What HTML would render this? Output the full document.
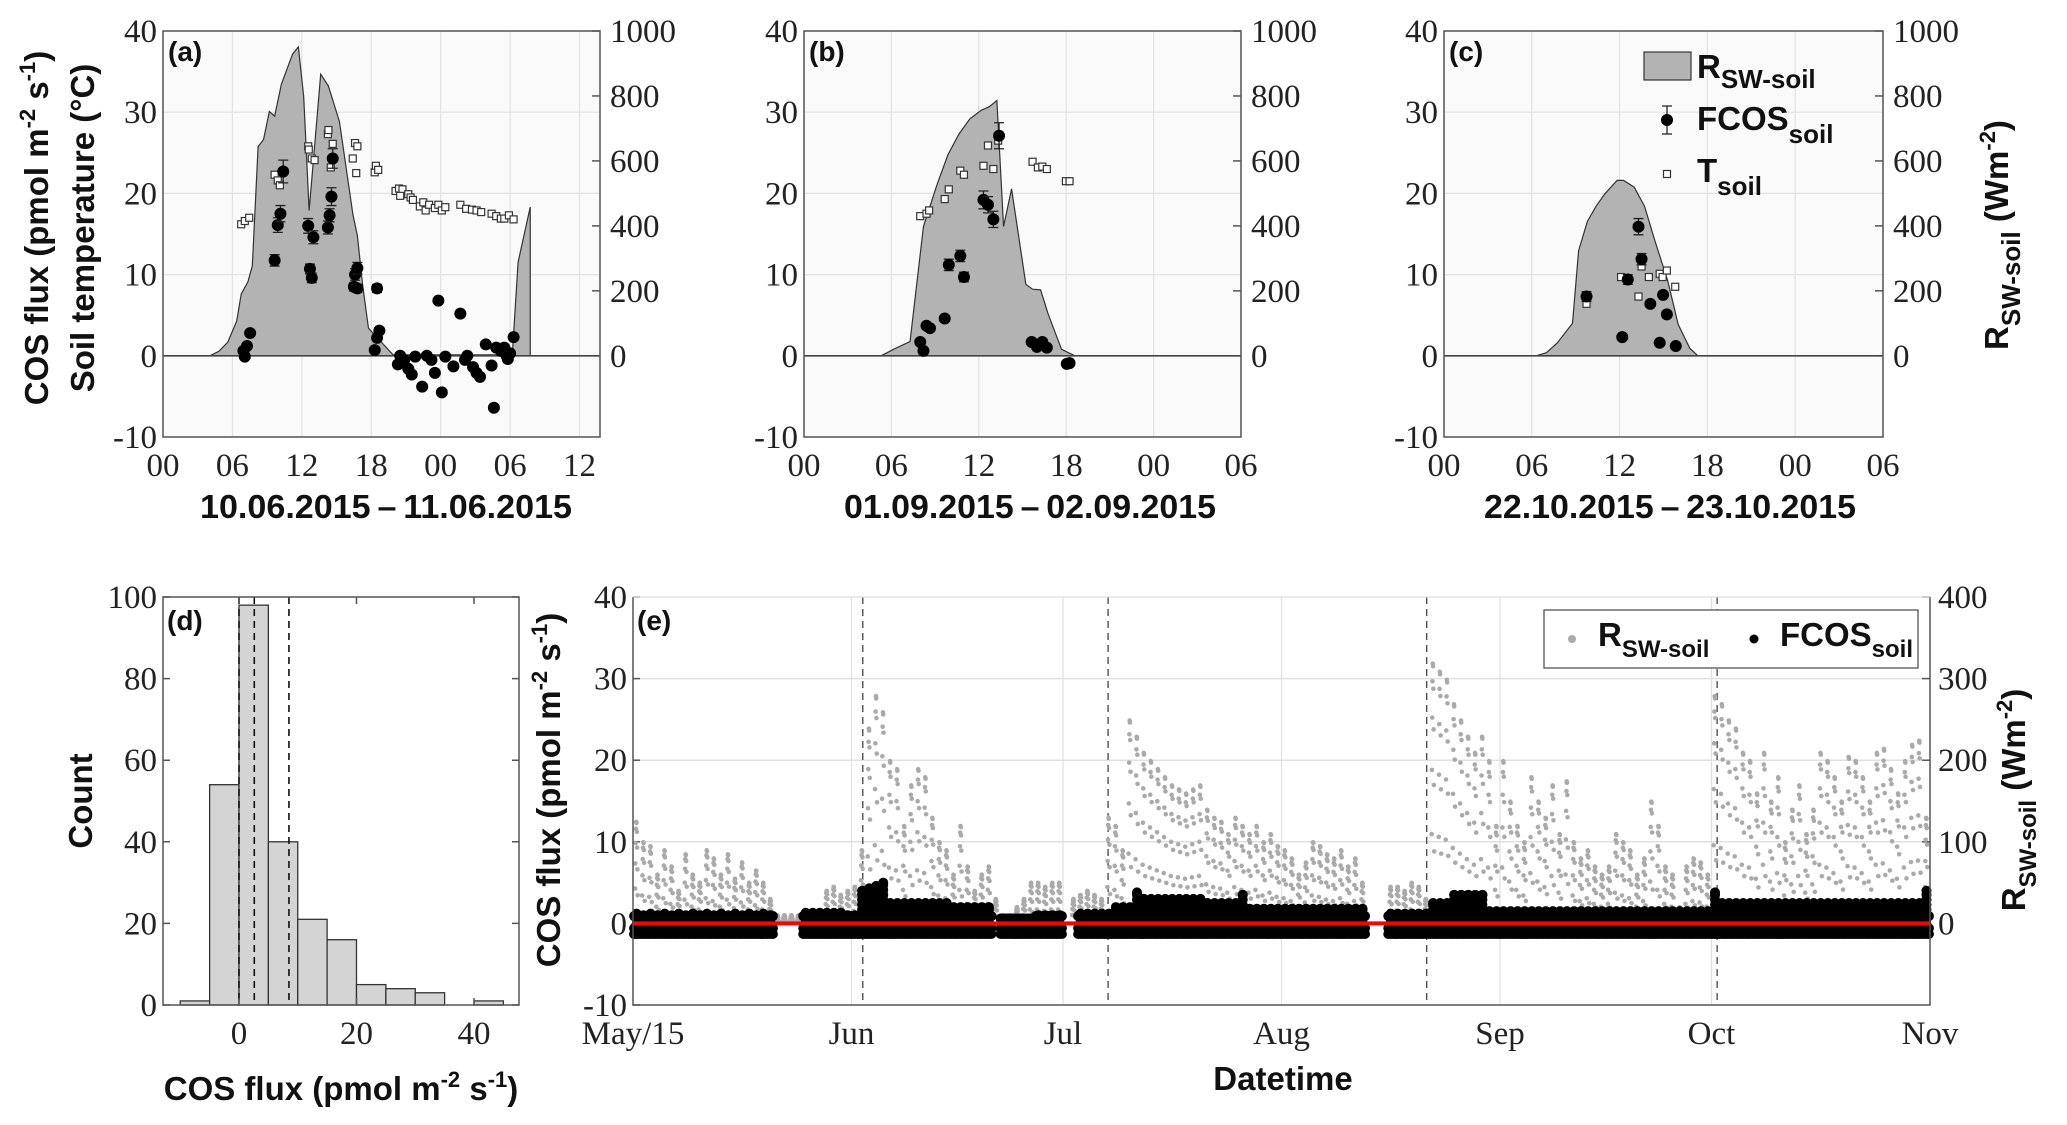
<!DOCTYPE html>
<html><head><meta charset="utf-8">
<style>
html,body{margin:0;padding:0;background:#fff;}
svg{display:block;}
.tk{font-family:"Liberation Serif",serif;font-size:33px;fill:#222;}
.tt{font-family:"Liberation Sans",sans-serif;font-weight:bold;font-size:33px;fill:#111;}
.pl{font-family:"Liberation Sans",sans-serif;font-weight:bold;font-size:28px;fill:#111;}
</style></head>
<body>
<svg id="chart" width="2067" height="1125" viewBox="0 0 2067 1125" xmlns="http://www.w3.org/2000/svg"></svg>
<script>
// ---------- data: panel (a) ----------
const aAreaH=[4.05,4.83,5.6,6.37,6.76,7.34,7.72,8.22,8.69,9.19,9.65,10.23,11.2,11.7,12.16,12.63,13.63,14.29,15.25,16.41,16.8,17.26,17.76,19.88,30.19,30.69,31.74,31.74];
const aAreaR=[0,14,42,107,190,228,277,644,666,752,738,836,929,951,798,447,867,831,721,436,370,216,85,3,3,288,458,0];
const aFluxH=[6.95,7.07,7.26,7.53,9.65,9.92,10.15,10.39,12.55,12.7,12.86,13.0,14.25,14.4,14.56,14.67,16.6,16.8,16.5,16.8,18.5,18.3,18.5,18.7,20.3,20.5,20.85,21.2,21.5,21.8,22.4,22.8,23.2,23.5,23.8,24.1,24.4,25.1,25.7,26.1,26.3,26.8,27.1,27.4,27.9,28.4,28.6,28.8,29.2,29.5,29.7,29.8,30.0,30.3];
const aFlux=[0.6,-0.1,1.2,2.8,11.75,16.1,17.5,22.7,16.0,10.7,9.6,14.6,15.8,17.3,19.6,24.3,10.0,10.8,8.5,8.3,8.3,0.7,2.2,3.1,-1.05,0,-0.5,-1.6,-2.3,-0.1,-3.8,0,-0.5,-2.1,6.8,-4.5,-0.1,-1.3,5.2,-0.5,0,-1.4,-2.1,-2.6,1.4,-1.2,-6.4,1.0,0.6,1.0,0,-0.4,0.3,2.3];
const aErr=[0.3,0.3,0.3,0.3,0.7,0.9,1.0,1.4,0.9,0.6,0.6,0.8,0.8,0.8,1.1,1.2,0.7,0.7,0.5,0.5,0.5];
const aTH=[6.76,7.07,7.45,9.65,9.92,10.1,12.55,12.6,12.86,13.1,14.25,14.3,14.5,14.67,16.4,16.6,16.8,16.7,18.3,18.4,18.6,20.1,20.4,20.7,20.5,21.2,21.4,21.6,22.2,22.5,22.7,23.0,23.5,23.8,24.1,24.4,25.7,26.2,26.7,27.1,27.5,28.4,28.8,29.2,29.5,29.9,30.3];
const aT=[16.2,16.6,17.0,22.3,21.6,21.0,25.8,25.4,24.3,24.1,27.3,27.8,23.2,26.1,24.3,26.2,25.8,22.5,22.6,23.4,22.9,20.3,20.6,20.5,19.7,19.9,19.5,19.2,18.4,18.9,17.9,18.6,18.2,18.6,17.9,18.3,18.6,18.1,18.0,17.9,17.7,17.5,17.2,16.9,16.9,17.3,16.8];
// ---------- data: panel (b) ----------
const bAreaH=[5.29,6.06,7.28,8.2,9.11,9.88,10.64,11.4,12.17,12.72,13.24,13.7,14.25,15.23,15.69,16.24,16.76,17.68,18.6];
const bAreaR=[0,18,44,398,524,619,683,730,756,767,786,398,514,220,205,203,129,20,0];
const bFluxH=[7.98,8.2,8.41,8.65,9.66,9.94,10.73,10.98,12.32,12.63,13.0,13.39,15.63,15.99,16.36,16.67,18.04,18.23];
const bFlux=[1.7,0.6,3.7,3.4,4.6,11.2,12.3,9.7,19.2,18.6,16.8,27.1,1.7,1.1,1.7,1.0,-1.0,-0.9];
const bErr=[0.3,0.3,0.3,0.3,0.3,0.7,0.7,0.6,1.1,1.0,1.0,1.6,0.3,0.3,0.3,0.3,0.2,0.2];
const bTH=[7.98,8.41,8.59,9.66,9.94,10.73,10.98,12.32,12.63,13.0,13.33,15.69,16.06,16.36,16.67,17.98,18.23];
const bT=[17.2,17.5,17.9,19.3,20.5,22.8,22.3,23.4,25.9,23.0,26.5,23.9,23.2,23.3,23.0,21.5,21.5];
// ---------- data: panel (c) ----------
const cAreaH=[6.3,7.0,7.73,8.78,9.2,9.8,10.4,10.98,11.83,12.27,13.0,13.7,14.4,15.3,16.0,16.8,17.35];
const cAreaR=[0,9.5,39,100,324,414,461,498,540,540,519,461,356,229,97,23,0];
const cFluxH=[9.74,12.18,12.56,13.29,13.5,14.1,14.74,14.97,15.23,15.84];
const cFlux=[7.3,2.3,9.4,15.9,11.9,6.4,1.6,7.5,5.1,1.2];
const cErr=[0.6,0.2,0.6,1.0,0.7,0.3,0.2,0.3,0.3,0.2];
const cTH=[9.74,12.1,13.29,13.5,14.0,14.74,14.94,15.23,15.8];
const cT=[6.4,9.7,7.3,11.0,9.7,10.1,9.7,10.5,8.5];
// ---------- data: panel (d) histogram ----------
const histEdges=[-10,-5,0,5,10,15,20,25,30,35,40,45];
const histCounts=[1,54,98,40,21,16,5,4,3,0,1];
const histLines=[0,2.6,8.5];
const histYTicks=[0,20,40,60,80,100];
const histXTicks=[0,20,40];
// ---------- data: panel (e) time series ----------
const eMonthDays=[0,31,61,92,123,153,184];
const eMonthLabels=['May/15','Jun','Jul','Aug','Sep','Oct','Nov'];
const eDashDays=[32.6,67.4,112.6,153.8];
const eRmax=[125,100,95,60,90,70,40,85,60,50, 90,80,60,85,55,75,50,65,50,30,
 10,10,10,10,10,10,10,40,45,35, 40,45,90,240,280,260,200,190,120,170,
 190,180,130,100,90,60,120,70,40,60, 70,30,10,10,20,30,50,50,45,50,
 50,0,30,35,40,35,30,130,120,90, 250,230,210,200,190,180,170,165,160,165,
 170,140,130,125,110,130,120,110,120,100, 110,95,90,80,60,75,100,95,85,80,
 90,70,80,50,0,0,0,45,45,40, 50,45,30,320,310,300,270,250,230,210,
 230,200,120,200,150,120,100,180,150,130, 170,110,175,100,80,90,70,60,70,110,
 100,90,60,80,150,120,70,60,20,70, 80,75,60,280,270,250,240,210,200,160,
 210,150,180,100,140,170,110,140,210,200, 180,150,205,200,180,150,210,215,190,160,
 200,220,225,130];
const eFluxMax=[1.2,1.0,1.2,1.0,1.2,1.0,1.2,1.0,1.2,1.0, 1.2,1.0,1.2,1.0,1.2,1.0,1.2,1.0,1.2,1.0,
 null,null,null,null,1.3,1.3,1.3,1.3,1.3,1.3, 1.0,1.0,4.0,4.3,4.6,5.0,2.5,2.5,2.5,2.5,
 2.5,2.5,2.5,2.5,2.5,2.0,2.0,2.0,2.0,2.0, 2.0,null,0.6,0.6,0.6,0.6,0.6,1.0,1.0,1.0,
 1.0,null,null,1.2,1.2,1.2,1.2,1.2,2.0,2.0, 2.0,3.8,3.0,3.0,3.0,3.0,3.0,3.0,3.0,3.0,
 3.0,2.5,2.5,2.5,2.5,2.5,3.5,1.8,1.8,1.8, 1.8,1.8,1.8,1.8,1.8,1.8,1.8,1.8,1.8,1.8,
 1.8,1.8,1.8,1.8,null,null,null,1.2,1.2,1.2, 1.2,1.2,1.2,2.5,2.5,2.5,3.5,3.5,3.5,3.5,
 3.5,1.5,1.5,1.5,1.5,1.5,1.5,1.5,1.5,1.5, 1.5,1.5,1.5,1.5,1.5,1.5,1.5,1.5,1.5,1.5,
 1.5,1.5,1.5,1.5,1.5,1.5,1.5,1.5,1.5,1.5, 1.5,1.5,1.5,3.8,2.5,2.5,2.5,2.5,2.5,2.5,
 2.5,2.5,2.5,2.5,2.5,2.5,2.5,2.5,2.5,2.5, 2.5,2.5,2.5,2.5,2.5,2.5,2.5,2.5,2.5,2.5,
 2.5,2.5,2.5,4.0];
const leftTicks=[-10,0,10,20,30,40];
const rightTicksDiurnal=[0,200,400,600,800,1000];
const rightTicksE=[0,100,200,300,400];

const NS='http://www.w3.org/2000/svg';
const svg=document.getElementById('chart');
function mk(tag,attrs,parent){const e=document.createElementNS(NS,tag);for(const k in attrs)e.setAttribute(k,attrs[k]);(parent||svg).appendChild(e);return e;}
function txt(x,y,s,cls,anchor,parent){const t=mk('text',{x:x,y:y,class:cls,'text-anchor':anchor||'middle'},parent);t.textContent=s;return t;}
function sub(t,s,size,dy){const sp=document.createElementNS(NS,'tspan');sp.setAttribute('font-size',size);sp.setAttribute('dy',dy);sp.textContent=s;t.appendChild(sp);return sp;}
function plain(t,s,dy){const sp=document.createElementNS(NS,'tspan');if(dy)sp.setAttribute('dy',dy);sp.textContent=s;t.appendChild(sp);return sp;}

function diurnal(cfg){
  const g=mk('g',{});
  
  
  const L=cfg.left,R=cfg.right,T=cfg.top,B=cfg.bottom;
  const xs=h=>L+h/cfg.xmax*(R-L);
  const ys=v=>T+(40-v)/50*(B-T);
  const yr=r=>ys(r/25);
  const bg=mk('rect',{x:L,y:T,width:R-L,height:B-T,fill:'#fafafa'},g);
  
  
  cfg.xtickLabels.forEach((lab,i)=>{
    const x=xs(i*6);
    const gl=mk('line',{x1:x,y1:T,x2:x,y2:B,stroke:'#e2e2e2','stroke-width':1.2},g);
    
    
    const tl=txt(x,476,lab,'tk','middle',g);
    
    
  });
  leftTicks.forEach(v=>{
    const y=ys(v);
    const gl=mk('line',{x1:L,y1:y,x2:R,y2:y,stroke:'#e2e2e2','stroke-width':1.2},g);
    
    
    const tl=txt(L-6,y+11,String(v),'tk','end',g);
    
    
  });
  rightTicksDiurnal.forEach(r=>{
    const y=yr(r);
    const tm=mk('line',{x1:R-8,y1:y,x2:R,y2:y,stroke:'#555','stroke-width':1.5},g);
    
    
    const tl=txt(R+10,y+11,String(r),'tk','start',g);
    
    
  });
  let pts=xs(cfg.areaH[0])+','+yr(0)+' ';
  cfg.areaH.forEach((h,i)=>{pts+=xs(h)+','+yr(cfg.areaR[i])+' ';});
  pts+=xs(cfg.areaH[cfg.areaH.length-1])+','+yr(0);
  const ar=mk('polygon',{points:pts,fill:'#b3b3b3',stroke:'#333','stroke-width':1.2},g);
  
  
  const zl=mk('line',{x1:L,y1:ys(0),x2:R,y2:ys(0),stroke:'#444','stroke-width':1.6},g);
  
  
  cfg.tH.forEach((h,i)=>{
    const s=mk('rect',{x:xs(h)-3.5,y:ys(cfg.t[i])-3.5,width:7,height:7,fill:'#fff',stroke:'#333','stroke-width':1.2},g);
    
    
  });
  cfg.fluxH.forEach((h,i)=>{
    const e=cfg.err[i]??0.3, x=xs(h), v=cfg.flux[i];
    if(e>=0.5){
      const eb=mk('path',{d:`M${x},${ys(v+e)}V${ys(v-e)}M${x-5},${ys(v+e)}H${x+5}M${x-5},${ys(v-e)}H${x+5}`,stroke:'#222','stroke-width':1.3,fill:'none'},g);
      
      
    }
    const c=mk('circle',{cx:x,cy:ys(v),r:6,fill:'#000'},g);
    
    
  });
  const bx=mk('rect',{x:L,y:T,width:R-L,height:B-T,fill:'none',stroke:'#555','stroke-width':1.5},g);
  
  
  const lb=txt(L+5,T+30,cfg.label,'pl','start',g);
  
  
  const ti=mk('text',{x:cfg.titleX,y:518,class:'tt','text-anchor':'middle',textLength:372,lengthAdjust:'spacingAndGlyphs'},g);
  ti.textContent=cfg.title;
  
  
}

diurnal({name:'panel-a',left:163,right:600,top:31,bottom:437,xmax:37.77,xtickLabels:['00','06','12','18','00','06','12'],areaH:aAreaH,areaR:aAreaR,fluxH:aFluxH,flux:aFlux,err:aErr,tH:aTH,t:aT,label:'(a)',title:'10.06.2015\u2009\u2013\u200911.06.2015',titleX:386});
diurnal({name:'panel-b',left:804,right:1241,top:31,bottom:437,xmax:30,xtickLabels:['00','06','12','18','00','06'],areaH:bAreaH,areaR:bAreaR,fluxH:bFluxH,flux:bFlux,err:bErr,tH:bTH,t:bT,label:'(b)',title:'01.09.2015\u2009\u2013\u200902.09.2015',titleX:1030});
diurnal({name:'panel-c',left:1444,right:1883,top:31,bottom:437,xmax:30,xtickLabels:['00','06','12','18','00','06'],areaH:cAreaH,areaR:cAreaR,fluxH:cFluxH,flux:cFlux,err:cErr,tH:cTH,t:cT,label:'(c)',title:'22.10.2015\u2009\u2013\u200923.10.2015',titleX:1670});

let t1=mk('text',{x:0,y:0,class:'tt','text-anchor':'middle',transform:'translate(48,228) rotate(-90)'});
plain(t1,'COS flux (pmol m');sub(t1,'-2',22,-13);plain(t1,' s',13);sub(t1,'-1',22,-13);plain(t1,')',13);


let t2=mk('text',{x:0,y:0,class:'tt','text-anchor':'middle',transform:'translate(94,228) rotate(-90)'});
t2.textContent='Soil temperature (°C)';


let t3=mk('text',{x:0,y:0,class:'tt','text-anchor':'middle',transform:'translate(2008,235) rotate(-90)'});
plain(t3,'R');sub(t3,'SW-soil',26,12);plain(t3,' (Wm',-12);sub(t3,'-2',22,-13);plain(t3,')',13);


const lg=mk('g',{});


const lp=mk('rect',{x:1644,y:52,width:47,height:28,fill:'#b3b3b3',stroke:'#333','stroke-width':1.2},lg);


let l1=txt(1697,78,'','tt','start',lg);plain(l1,'R');sub(l1,'SW-soil',26,10);


const le=mk('path',{d:'M1667,106V134M1662,106H1672M1662,134H1672',stroke:'#222','stroke-width':1.3},lg);


const lc=mk('circle',{cx:1667,cy:120,r:6,fill:'#000'},lg);


let l2=txt(1697,130,'','tt','start',lg);plain(l2,'FCOS');sub(l2,'soil',26,13);


const ls=mk('rect',{x:1663.5,y:170.5,width:7,height:7,fill:'#fff',stroke:'#333','stroke-width':1.2},lg);


let l3=txt(1697,182,'','tt','start',lg);plain(l3,'T');sub(l3,'soil',26,13);



(function(){
  const L=163,R=519,T=597,B=1005;
  const xs=v=>239+v*5.875, ys=c=>B-c/100*(B-T);
  const g=mk('g',{});
  
  
  histCounts.forEach((c,i)=>{
    if(c<=0)return;
    const x0=xs(histEdges[i]),x1=xs(histEdges[i+1]);
    const b=mk('rect',{x:x0,y:ys(c),width:x1-x0,height:B-ys(c),fill:'#d4d4d4',stroke:'#333','stroke-width':1.3},g);
    
    
  });
  histLines.forEach(v=>{
    const l=mk('line',{x1:xs(v),y1:T,x2:xs(v),y2:B,stroke:'#111','stroke-width':1.6,'stroke-dasharray':'7,5'},g);
    
    
  });
  histYTicks.forEach(c=>{
    const y=ys(c);
    const tm=mk('path',{d:`M${L},${y}H${L+7}M${R},${y}H${R-7}`,stroke:'#555','stroke-width':1.5},g);
    
    
    const tl=txt(L-6,y+11,String(c),'tk','end',g);
    
    
  });
  histXTicks.forEach(v=>{
    const x=xs(v);
    const tm=mk('path',{d:`M${x},${B}V${B-7}M${x},${T}V${T+7}`,stroke:'#555','stroke-width':1.5},g);
    
    
    const tl=txt(x,1044,String(v),'tk','middle',g);
    
    
  });
  const bx=mk('rect',{x:L,y:T,width:R-L,height:B-T,fill:'none',stroke:'#555','stroke-width':1.5},g);
  
  
  const lb=txt(L+4,T+33,'(d)','pl','start',g);
  
  
  const yt=mk('text',{x:0,y:0,class:'tt','text-anchor':'middle',transform:'translate(92,801) rotate(-90)'},g);
  yt.textContent='Count';
  
  
  const xt=txt(341,1100,'','tt','middle',g);
  plain(xt,'COS flux (pmol m');sub(xt,'-2',22,-13);plain(xt,' s',13);sub(xt,'-1',22,-13);plain(xt,')',13);
  
  
})();

(function(){
  const L=633,R=1930,T=597,B=1005;
  const xs=d=>L+d/184*(R-L), ys=v=>T+(40-v)/50*(B-T), yr=r=>ys(r/10);
  const g=mk('g',{});
  
  
  leftTicks.forEach(v=>{
    const y=ys(v);
    if(v>0&&v<40){const gl=mk('line',{x1:L,y1:y,x2:R,y2:y,stroke:'#e0e0e0','stroke-width':1.5},g);
      
      }
    const tm=mk('line',{x1:L,y1:y,x2:L+7,y2:y,stroke:'#555','stroke-width':1.5},g);
    
    
    const tl=txt(L-6,y+11,String(v),'tk','end',g);
    
    
  });
  rightTicksE.forEach(r=>{
    const y=yr(r);
    const tm=mk('line',{x1:R-8,y1:y,x2:R,y2:y,stroke:'#555','stroke-width':1.5},g);
    
    
    const tl=txt(R+8,y+11,String(r),'tk','start',g);
    
    
  });
  eMonthDays.forEach((d,i)=>{
    const x=xs(d);
    if(i>0&&i<eMonthDays.length-1){const gl=mk('line',{x1:x,y1:T,x2:x,y2:B,stroke:'#e0e0e0','stroke-width':1.2},g);
      
      }
    const tl=txt(x,1044,eMonthLabels[i],'tk','middle',g);
    
    
  });
  eDashDays.forEach(d=>{
    const l=mk('line',{x1:xs(d),y1:T,x2:xs(d),y2:B,stroke:'#444','stroke-width':1.3,'stroke-dasharray':'7,5'},g);
    
    
  });
  const gr=mk('g',{fill:'#aaaaaa'},g);
  
  
  eRmax.forEach((rm,d)=>{
    if(rm<=0)return;
    for(let i=0;i<10;i++){
      const t=0.3+0.04*i;
      const r=rm*Math.sin(Math.PI*(t-0.25)/0.45);
      if(r<1)continue;
      const c=mk('circle',{cx:xs(d+t),cy:yr(r),r:2.3},gr);
      
      
    }
  });
  const bk=mk('g',{fill:'#000'},g);
  
  
  eFluxMax.forEach((fm,d)=>{
    if(fm===null)return;
    const vals=[];
    for(let v=-1.3;v<=fm+0.01;v+=0.6)vals.push(v);
    [0.15,0.5,0.85].forEach((t,k)=>{
      const list=k===1?vals.concat([fm]):[-1.3,-0.6,Math.min(fm,0.9)];
      list.forEach(v=>{
        const c=mk('circle',{cx:xs(d+t),cy:ys(v),r:5},bk);
        
        
      });
    });
  });
  const zl=mk('line',{x1:L,y1:ys(0),x2:R,y2:ys(0),stroke:'#ff0000','stroke-width':4},g);
  
  
  const bx=mk('path',{d:`M${L},${T}V${B}H${R}V${T}`,fill:'none',stroke:'#555','stroke-width':1.5},g);
  
  
  const tp=mk('line',{x1:L,y1:T,x2:R,y2:T,stroke:'#ddd','stroke-width':1.2},g);
  
  
  const lb=txt(L+4,T+33,'(e)','pl','start',g);
  
  
  const lgE=mk('g',{},g);
  
  
  const lr=mk('rect',{x:1544,y:610,width:374,height:58,fill:'#fff',stroke:'#555','stroke-width':1.3},lgE);
  
  
  const d1=mk('circle',{cx:1572,cy:639,r:4,fill:'#aaa'},lgE);
  
  
  let e1=txt(1598,646,'','tt','start',lgE);plain(e1,'R');sub(e1,'SW-soil',24,11);
  
  
  const d2=mk('circle',{cx:1754,cy:639,r:4.5,fill:'#000'},lgE);
  
  
  let e2=txt(1780,646,'','tt','start',lgE);plain(e2,'FCOS');sub(e2,'soil',24,11);
  
  
  const yt=txt(0,0,'','tt','middle',g);
  yt.setAttribute('transform','translate(560,790) rotate(-90)');
  plain(yt,'COS flux (pmol m');sub(yt,'-2',22,-13);plain(yt,' s',13);sub(yt,'-1',22,-13);plain(yt,')',13);
  
  
  const rt=txt(0,0,'','tt','middle',g);
  rt.setAttribute('transform','translate(2025,800) rotate(-90)');
  plain(rt,'R');sub(rt,'SW-soil',24,11);plain(rt,' (Wm',-11);sub(rt,'-2',22,-13);plain(rt,')',13);
  
  
  const xt=txt(1283,1090,'Datetime','tt','middle',g);
  
  
})();
</script>
</body></html>
